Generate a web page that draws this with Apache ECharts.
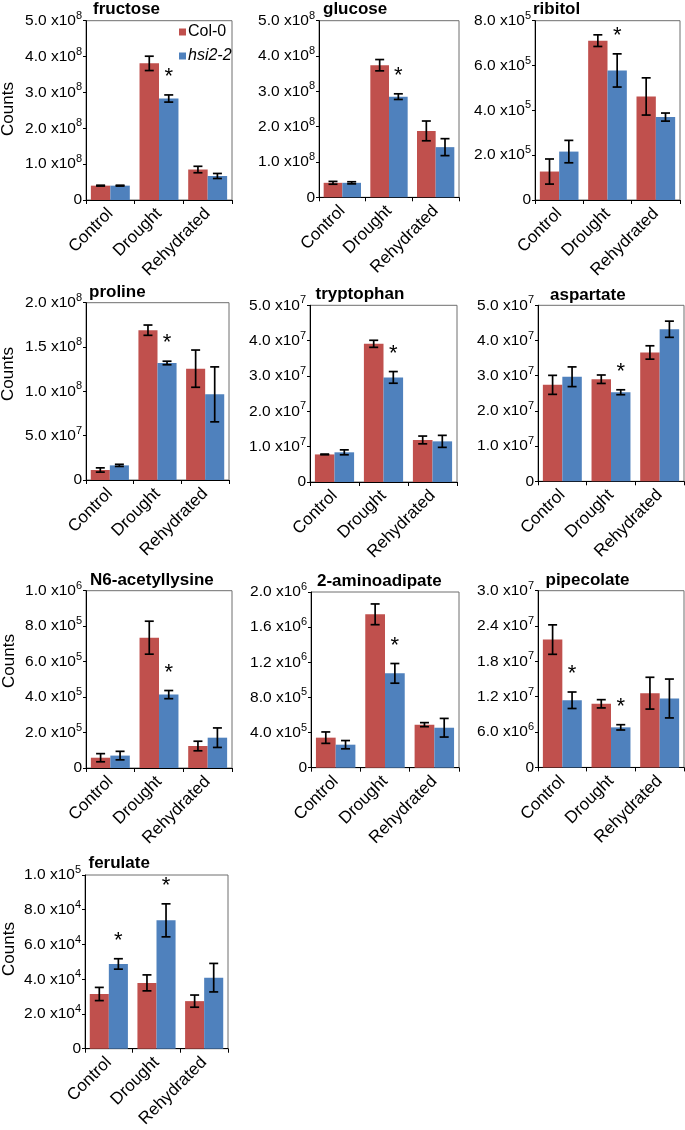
<!DOCTYPE html>
<html>
<head>
<meta charset="utf-8">
<script src="https://cdn.jsdelivr.net/npm/echarts@6/dist/echarts.min.js"></script>
<style>
html,body{margin:0;padding:0;background:#fff;}
#chart{width:685px;height:1130px;}
</style>
</head>
<body>
<div id="chart"></div>
<script>
// ---------- DATA ----------
const categories = ['Control', 'Drought', 'Rehydrated'];
const seriesNames = ['Col-0', 'hsi2-2'];
const panelNames = ['fructose', 'glucose', 'ribitol', 'proline', 'tryptophan', 'aspartate',
                    'N6-acetyllysine', '2-aminoadipate', 'pipecolate', 'ferulate'];
const yMax  = [5e8, 5e8, 8e5, 2e8, 5e7, 5e7, 1e6, 2e6, 3e7, 1e5];
const yStep = [1e8, 1e8, 2e5, 5e7, 1e7, 1e7, 2e5, 4e5, 6e6, 2e4];

const col0 = [
  [0.40e8, 3.81e8, 0.85e8],
  [0.41e8, 3.74e8, 1.88e8],
  [1.27e5, 7.11e5, 4.62e5],
  [0.113e8, 1.69e8, 1.256e8],
  [0.78e7, 3.91e7, 1.19e7],
  [2.74e7, 2.90e7, 3.66e7],
  [0.58e5, 7.35e5, 1.24e5],
  [3.42e5, 1.746e6, 4.9e5],
  [2.17e7, 1.08e7, 1.26e7],
  [3.15e4, 3.79e4, 2.74e4]
];
const col0Err = [
  [0.012e8, 0.20e8, 0.09e8],
  [0.04e8, 0.16e8, 0.28e8],
  [0.56e5, 0.26e5, 0.83e5],
  [0.024e8, 0.058e8, 0.21e8],
  [0.01e7, 0.10e7, 0.11e7],
  [0.27e7, 0.12e7, 0.19e7],
  [0.23e5, 0.93e5, 0.27e5],
  [0.65e5, 1.18e5, 0.23e5],
  [2.5e6, 0.7e6, 2.7e6],
  [0.38e4, 0.46e4, 0.35e4]
];
const hsi = [
  [0.40e8, 2.83e8, 0.67e8],
  [0.41e8, 2.85e8, 1.42e8],
  [2.16e5, 5.78e5, 3.70e5],
  [0.165e8, 1.32e8, 0.966e8],
  [0.84e7, 2.96e7, 1.15e7],
  [2.97e7, 2.53e7, 4.32e7],
  [0.70e5, 4.14e5, 1.71e5],
  [2.62e5, 1.074e6, 4.55e5],
  [1.14e7, 0.68e7, 1.17e7],
  [4.88e4, 7.39e4, 4.09e4]
];
const hsiErr = [
  [0.012e8, 0.10e8, 0.07e8],
  [0.03e8, 0.08e8, 0.24e8],
  [0.50e5, 0.74e5, 0.18e5],
  [0.012e8, 0.02e8, 0.31e8],
  [0.07e7, 0.165e7, 0.17e7],
  [0.28e7, 0.07e7, 0.23e7],
  [0.24e5, 0.23e5, 0.55e5],
  [0.47e5, 1.12e5, 1.06e5],
  [1.4e6, 0.45e6, 3.3e6],
  [0.30e4, 0.95e4, 0.82e4]
];
// significance asterisks on hsi2-2 bars
const hsiStar = [
  [0, 1, 0], [0, 1, 0], [0, 1, 0], [0, 1, 0], [0, 1, 0],
  [0, 1, 0], [0, 1, 0], [0, 1, 0], [1, 1, 0], [1, 1, 0]
];

// ---------- LAYOUT (positions only) ----------
const gridBoxes = [ // [left, top, width, height]
  [86, 20.7, 146, 179.3], [319, 20.7, 140, 176.6], [535, 20.7, 145, 179.3],
  [86, 302.7, 143, 177.3], [310, 305.3, 147, 176.7], [538, 305.3, 146, 176],
  [86, 590.7, 146, 177.3], [311, 592, 148, 175.7], [538, 590.7, 146, 176.7],
  [85, 875, 143, 177.7]
];
const titlePos = [ // [x, baseline y]
  [93, 15.3], [323, 15], [533, 15], [89, 298.3], [315.5, 300.3], [550, 300.7],
  [90, 586], [317, 586.7], [545.5, 586], [88.5, 869.3]
];
const countsPos = [[8.5, 109], [8.5, 374], [9.5, 661], [9.5, 949]];

// ---------- CHART ----------
const RED = '#C0504D', BLUE = '#4F81BD';
const FONT = '"Liberation Sans", Arial, Helvetica, sans-serif';

function sciLabel(v) {
  if (v === 0) return '{m|0}';
  const e = Math.floor(Math.log10(v) + 1e-9);
  const m = v / Math.pow(10, e);
  return '{m|' + m.toFixed(1) + ' x10}{s|' + e + '}';
}

const grid = [], xAxis = [], yAxis = [], series = [], graphic = [];

panelNames.forEach((name, i) => {
  const b = gridBoxes[i];
  grid.push({
    left: b[0], top: b[1], width: b[2], height: b[3],
    show: true, borderColor: '#6e6e6e', borderWidth: 1, backgroundColor: 'transparent'
  });
  xAxis.push({
    type: 'category', gridIndex: i, data: categories,
    axisLine: { show: true, lineStyle: { color: '#000', width: 1 } },
    axisTick: { show: true, length: 4, lineStyle: { color: '#000' } },
    axisLabel: { rotate: 45, fontSize: 17, margin: 11, color: '#000', interval: 0, fontFamily: FONT },
    splitLine: { show: false }
  });
  yAxis.push({
    type: 'value', gridIndex: i, min: 0, max: yMax[i], interval: yStep[i],
    axisLine: { show: true, lineStyle: { color: '#000', width: 1 } },
    axisTick: { show: true, length: 3, lineStyle: { color: '#000' } },
    splitLine: { show: false },
    axisLabel: {
      margin: 4, formatter: sciLabel,
      rich: {
        m: { fontSize: 15.5, color: '#000', fontFamily: FONT, lineHeight: 21 },
        s: { fontSize: 11, color: '#000', fontFamily: FONT, verticalAlign: 'top', lineHeight: 12 }
      }
    }
  });
  series.push({
    name: seriesNames[0], type: 'bar', xAxisIndex: i, yAxisIndex: i,
    data: col0[i], itemStyle: { color: RED }, barGap: '0%', barCategoryGap: '20%',
    silent: true, animation: false
  });
  series.push({
    name: seriesNames[1], type: 'bar', xAxisIndex: i, yAxisIndex: i,
    data: hsi[i], itemStyle: { color: BLUE }, barGap: '0%', barCategoryGap: '20%',
    silent: true, animation: false
  });
  const errData = [];
  categories.forEach((c, k) => {
    errData.push([k, col0[i][k], col0Err[i][k], 0, 0]);
    errData.push([k, hsi[i][k], hsiErr[i][k], 1, hsiStar[i][k]]);
  });
  series.push({
    type: 'custom', xAxisIndex: i, yAxisIndex: i, data: errData, z: 10,
    silent: true, animation: false, clip: false,
    encode: { x: 0, y: 1 },
    renderItem: function (params, api) {
      const cat = api.value(0), v = api.value(1), e = api.value(2), s = api.value(3), star = api.value(4);
      const cw = api.size([1, 0])[0];
      const x = api.coord([cat, v])[0] + (s === 0 ? -0.2 : 0.2) * cw;
      const yT = api.coord([cat, v + e])[1];
      const yB = api.coord([cat, v - e])[1];
      const h = 4.5;
      const st = { stroke: '#000', lineWidth: 1.7 };
      const children = [
        { type: 'line', shape: { x1: x, y1: yT, x2: x, y2: yB }, style: st },
        { type: 'line', shape: { x1: x - h, y1: yT, x2: x + h, y2: yT }, style: st },
        { type: 'line', shape: { x1: x - h, y1: yB, x2: x + h, y2: yB }, style: st }
      ];
      if (star) {
        children.push({
          type: 'text', x: x, y: yT - 18,
          style: { text: '*', fontSize: 22, fontFamily: FONT, fill: '#000', align: 'center', verticalAlign: 'middle' }
        });
      }
      return { type: 'group', children: children };
    }
  });
  graphic.push({
    type: 'text', left: titlePos[i][0], top: titlePos[i][1] - 14, silent: true,
    style: { text: name, fontSize: 17, fontWeight: 'bold', fontFamily: FONT, fill: '#000' }
  });
});

countsPos.forEach(p => {
  graphic.push({
    type: 'text', x: p[0], y: p[1], rotation: Math.PI / 2, silent: true,
    style: { text: 'Counts', fontSize: 17, fontFamily: FONT, fill: '#000', align: 'center', verticalAlign: 'middle' }
  });
});

const chart = echarts.init(document.getElementById('chart'), null, { renderer: 'canvas' });
chart.setOption({
  animation: false,
  backgroundColor: '#fff',
  textStyle: { fontFamily: FONT },
  grid: grid, xAxis: xAxis, yAxis: yAxis, series: series, graphic: graphic,
  legend: {
    data: seriesNames, orient: 'vertical', left: 179, top: 24, itemGap: 8, padding: 0,
    itemWidth: 7, itemHeight: 7, icon: 'rect', selectedMode: false,
    textStyle: {
      fontSize: 16, color: '#000', fontFamily: FONT, lineHeight: 16, padding: [0, 0, 0, -3],
      rich: { i: { fontStyle: 'italic', fontSize: 16, color: '#000', fontFamily: FONT } }
    },
    formatter: function (n) { return n === 'hsi2-2' ? '{i|hsi2-2}' : n; }
  }
});
</script>
</body>
</html>
